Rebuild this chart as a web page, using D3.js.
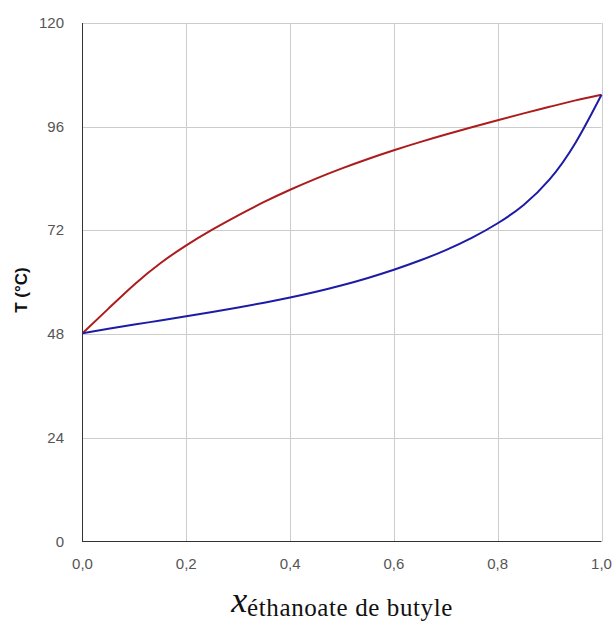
<!DOCTYPE html>
<html><head><meta charset="utf-8">
<script src="https://cdn.jsdelivr.net/npm/d3@7"></script>
<style>
html,body{margin:0;padding:0;background:#fff;}
</style></head>
<body>
<svg id="chart" width="614" height="626"></svg>
<script>
// Data: composition (x) and temperature (°C)
const xs = [0, 0.05, 0.1, 0.15, 0.2, 0.25, 0.3, 0.35, 0.4, 0.45, 0.5, 0.55, 0.6, 0.65, 0.7, 0.75, 0.8, 0.85, 0.9, 0.95, 1.0];
const vaporT = [48.2, 53.9, 59.5, 64.4, 68.55, 72.18, 75.5, 78.58, 81.4, 83.99, 86.35, 88.53, 90.55, 92.44, 94.2, 95.88, 97.5, 99.08, 100.6, 102.09, 103.4];
const liquidT = [48.2, 49.23, 50.2, 51.15, 52.11, 53.11, 54.16, 55.27, 56.47, 57.8, 59.3, 61.0, 62.9, 65.02, 67.45, 70.27, 73.65, 77.9, 83.8, 92.3, 103.4];
const xTicks = [0, 0.2, 0.4, 0.6, 0.8, 1.0];
const yTicks = [0, 24, 48, 72, 96, 120];
const yTitle = "T (°C)";
const xTitleMain = "x";
const xTitleSub = "éthanoate de butyle";

const svg = d3.select("#chart");
const L = 82.5, R = 601.5, T = 23, B = 541.5;
const x = d3.scaleLinear().domain([0, 1]).range([L, R]);
const y = d3.scaleLinear().domain([0, 120]).range([B, T]);

// grid
const g = svg.append("g");
g.selectAll(".hg").data(yTicks.filter(d => d > 0)).enter().append("line")
  .attr("x1", L).attr("x2", R).attr("y1", d => Math.round(y(d)) + 0.5).attr("y2", d => Math.round(y(d)) + 0.5)
  .attr("stroke", "#cccccc").attr("stroke-width", 1);
g.selectAll(".vg").data(xTicks.filter(d => d > 0)).enter().append("line")
  .attr("y1", T).attr("y2", B).attr("x1", d => Math.round(x(d)) + 0.5).attr("x2", d => Math.round(x(d)) + 0.5)
  .attr("stroke", "#cccccc").attr("stroke-width", 1);

// axes lines
svg.append("line").attr("x1", L).attr("x2", L).attr("y1", T).attr("y2", B + 0.5)
  .attr("stroke", "#333").attr("stroke-width", 1);
svg.append("line").attr("x1", L).attr("x2", R).attr("y1", B).attr("y2", B)
  .attr("stroke", "#333").attr("stroke-width", 1);

// tick labels
const fmt = d => d3.format(".1f")(d).replace(".", ",");
svg.selectAll(".xt").data(xTicks).enter().append("text")
  .attr("x", d => x(d)).attr("y", 569)
  .attr("text-anchor", "middle")
  .attr("font-family", "Liberation Sans, Arial, sans-serif").attr("font-size", 15)
  .attr("fill", "#555").text(fmt);
svg.selectAll(".yt").data(yTicks).enter().append("text")
  .attr("x", 64).attr("y", d => y(d) + 5)
  .attr("text-anchor", "end")
  .attr("font-family", "Liberation Sans, Arial, sans-serif").attr("font-size", 15)
  .attr("fill", "#555").text(d => d);

// curves
const line = d3.line().x(d => x(d[0])).y(d => y(d[1])).curve(d3.curveNatural);
svg.append("path").datum(xs.map((v, i) => [v, vaporT[i]]))
  .attr("d", line).attr("fill", "none").attr("stroke", "#ad1c1c").attr("stroke-width", 2);
svg.append("path").datum(xs.map((v, i) => [v, liquidT[i]]))
  .attr("d", line).attr("fill", "none").attr("stroke", "#1c1ca6").attr("stroke-width", 2);

// y title
svg.append("text")
  .attr("transform", "translate(27,290) rotate(-90)")
  .attr("text-anchor", "middle")
  .attr("font-family", "Liberation Sans, Arial, sans-serif").attr("font-size", 17).attr("font-weight", "bold")
  .attr("fill", "#111").text(yTitle);

// x title
const xt = svg.append("text").attr("x", 342).attr("y", 612).attr("text-anchor", "middle")
  .attr("font-family", "Liberation Serif, Times New Roman, serif").attr("fill", "#111");
xt.append("tspan").attr("font-style", "italic").attr("font-size", 36).text(xTitleMain);
xt.append("tspan").attr("font-size", 25).attr("letter-spacing", 0.6).attr("dy", 4).text(xTitleSub);
</script>
</body></html>
